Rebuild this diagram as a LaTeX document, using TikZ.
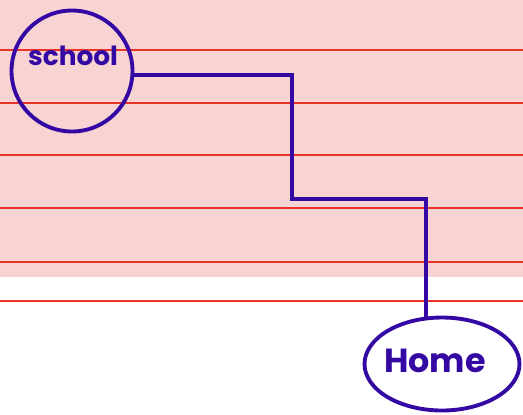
\documentclass[tikz,border=0pt]{standalone}
\usepackage{fontspec}
\setmainfont{Poppins}
\usetikzlibrary{shapes.geometric}
\definecolor{ink}{RGB}{52,8,163}
\definecolor{paper}{RGB}{247,212,210}
\definecolor{rule}{RGB}{232,52,40}

\begin{document}
\begin{tikzpicture}[
    x=0.02cm, y=-0.02cm,
    place/.style = {draw=ink, line width=2.2pt},
    hand/.style = {text=ink, font=\bfseries\fontsize{15}{18}\selectfont},
    route/.style = {draw=ink, line width=2.2pt},
    ruling/.style = {draw=rule, line width=0.8pt}]
    \useasboundingbox (0,0) rectangle (523,414);
    % PAPER
    \fill[paper] (0,0) rectangle (523,277);
    \foreach \y in {50,103,155,208,262,301}
        \draw[ruling] (0,\y) -- (523,\y);

    % NODES
    % node school
    \node[place, circle, minimum size=2.42cm] (school) at (72,71) {};
    \node[hand] (schooltext) at (73,56) {school};
    % node home
    \node[place, ellipse, minimum width=3.1cm, minimum height=1.86cm] (home) at (442,364) {};
    \node[hand, font=\bfseries\fontsize{19}{22}\selectfont] (hometext) at (435,361) {Home};
    % bend
    \coordinate (bend) at (292,199);

    % ROUTE
    \draw[route] (school.-4) -| (bend) -| (home.109);
\end{tikzpicture}
\end{document}
